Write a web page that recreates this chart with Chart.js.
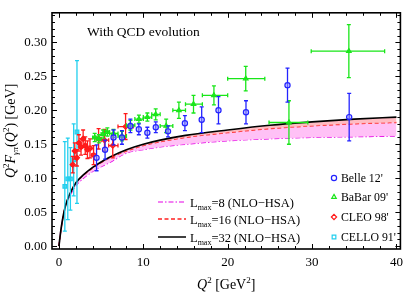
<!DOCTYPE html>
<html><head><meta charset="utf-8">
<script src="https://cdn.jsdelivr.net/npm/chart.js@4.4.0/dist/chart.umd.min.js"></script>
<style>html,body{margin:0;padding:0;background:#fff;overflow:hidden}</style>
</head><body>
<canvas id="c" width="409" height="293" style="width:409px;height:293px;display:block"></canvas>
<script>
const FONT = '"Liberation Serif", "Times New Roman", serif';

// Theory curves (Q^2 grid, Q^2 F(Q^2) in GeV)
const q2Grid = [0, 0.25, 0.5, 0.75, 1, 1.5, 2, 3, 4, 5, 6, 8, 10, 12, 15, 20, 25, 30, 35, 40];
const lmax32 = [0, 0.025, 0.044, 0.058, 0.068, 0.082, 0.093, 0.106, 0.116, 0.124, 0.131, 0.142, 0.150, 0.156, 0.163, 0.171, 0.178, 0.183, 0.187, 0.190];
const lmax16 = [0, 0.025, 0.044, 0.058, 0.068, 0.082, 0.093, 0.1055, 0.115, 0.123, 0.1295, 0.140, 0.148, 0.1535, 0.160, 0.167, 0.173, 0.177, 0.180, 0.182];
const lmax8  = [0, 0.025, 0.043, 0.057, 0.066, 0.079, 0.089, 0.101, 0.110, 0.117, 0.123, 0.137, 0.142, 0.146, 0.150, 0.155, 0.158, 0.160, 0.161, 0.162];

// Belle 12'
const belleQ2  = [4.46, 5.47, 6.47, 7.47, 8.47, 9.47, 10.48, 11.48, 12.93, 14.93, 16.92, 18.91, 22.17, 27.09, 34.4];
const belleF   = [0.130, 0.142, 0.160, 0.160, 0.177, 0.172, 0.167, 0.175, 0.169, 0.181, 0.186, 0.200, 0.197, 0.237, 0.190];
const belleErr = [0.019, 0.014, 0.011, 0.010, 0.010, 0.008, 0.008, 0.008, 0.008, 0.011, 0.019, 0.020, 0.017, 0.025, 0.035];

// BaBar 09'
const babarQ2  = [4.24, 4.74, 5.24, 5.74, 6.47, 7.47, 8.48, 9.48, 10.48, 11.47, 12.71, 14.22, 15.95, 18.37, 22.14, 27.26, 34.36];
const babarLo  = [4.0, 4.5, 5.0, 5.5, 6.0, 7.0, 8.0, 9.0, 10.0, 11.0, 12.0, 13.5, 15.0, 17.0, 20.0, 24.9, 29.9];
const babarHi  = [4.5, 5.0, 5.5, 6.0, 7.0, 8.0, 9.0, 10.0, 11.0, 12.0, 13.5, 15.0, 17.0, 20.0, 24.4, 29.5, 38.6];
const babarF   = [0.160, 0.158, 0.165, 0.168, 0.166, 0.162, 0.178, 0.187, 0.190, 0.194, 0.177, 0.200, 0.209, 0.222, 0.2465, 0.182, 0.287];
const babarErr = [0.006, 0.006, 0.006, 0.006, 0.006, 0.007, 0.007, 0.006, 0.006, 0.008, 0.010, 0.012, 0.013, 0.014, 0.018, 0.032, 0.039];

// CLEO 98'
const cleoQ2  = [1.64, 1.88, 2.13, 2.37, 2.62, 2.87, 3.12, 3.38, 3.68, 4.11, 4.70, 5.40, 6.38, 7.90];
const cleoLo  = [1.5, 1.75, 2.0, 2.25, 2.5, 2.75, 3.0, 3.25, 3.5, 3.9, 4.4, 5.0, 5.9, 7.0];
const cleoHi  = [1.75, 2.0, 2.25, 2.5, 2.75, 3.0, 3.25, 3.5, 3.9, 4.4, 5.0, 5.9, 7.0, 8.8];
const cleoF   = [0.120, 0.140, 0.130, 0.152, 0.146, 0.158, 0.148, 0.142, 0.144, 0.134, 0.158, 0.156, 0.148, 0.176];
const cleoErr = [0.012, 0.012, 0.012, 0.012, 0.012, 0.013, 0.013, 0.013, 0.014, 0.014, 0.015, 0.016, 0.018, 0.019];

// CELLO 91'
const celloQ2  = [0.70, 1.05, 1.36, 1.75, 2.14];
const celloF   = [0.088, 0.099, 0.099, 0.127, 0.168];
const celloErr = [0.066, 0.060, 0.046, 0.053, 0.105];

const xTickValues = [0, 10, 20, 30, 40];
const yTickValues = [0, 0.05, 0.10, 0.15, 0.20, 0.25, 0.30];

const COL = { belle: '#2323ff', babar: '#19e619', cleo: '#ff1a1a', cello: '#22cfee' };

const pts = (xs, ys) => xs.map((x, i) => ({ x: x, y: ys[i] }));

const errorBars = {
  id: 'errorBars',
  beforeDatasetDraw(chart, args) {
    const ds = chart.data.datasets[args.index];
    if (!ds.errY) return;
    const ctx = chart.ctx, xs = chart.scales.x, ys = chart.scales.y, a = chart.chartArea;
    ctx.save();
    ctx.beginPath(); ctx.rect(a.left, a.top, a.right - a.left, a.bottom - a.top); ctx.clip();
    ctx.strokeStyle = ds.borderColor; ctx.lineWidth = 1.3;
    const cap = 2;
    ds.data.forEach((p, i) => {
      const px = xs.getPixelForValue(p.x);
      const y1 = ys.getPixelForValue(p.y - ds.errY[i]);
      const y2 = ys.getPixelForValue(p.y + ds.errY[i]);
      ctx.beginPath();
      ctx.moveTo(px, y1); ctx.lineTo(px, y2);
      ctx.moveTo(px - cap, y1); ctx.lineTo(px + cap, y1);
      ctx.moveTo(px - cap, y2); ctx.lineTo(px + cap, y2);
      if (ds.errXLo) {
        const py = ys.getPixelForValue(p.y);
        const x1 = xs.getPixelForValue(ds.errXLo[i]);
        const x2 = xs.getPixelForValue(ds.errXHi[i]);
        ctx.moveTo(x1, py); ctx.lineTo(x2, py);
        ctx.moveTo(x1, py - cap); ctx.lineTo(x1, py + cap);
        ctx.moveTo(x2, py - cap); ctx.lineTo(x2, py + cap);
      }
      ctx.stroke();
    });
    ctx.restore();
  }
};

function drawRich(ctx, segs, x, y, align) {
  let w = 0;
  segs.forEach(s => { ctx.font = (s.it ? 'italic ' : '') + s.sz + 'px ' + FONT; s.w = ctx.measureText(s.t).width; w += s.w; });
  let cx = align === 'center' ? x - w / 2 : x;
  segs.forEach(s => {
    ctx.font = (s.it ? 'italic ' : '') + s.sz + 'px ' + FONT;
    ctx.fillText(s.t, cx, y + (s.dy || 0));
    cx += s.w;
  });
}

const decor = {
  id: 'decor',
  afterDraw(chart) {
    const ctx = chart.ctx, a = chart.chartArea, xs = chart.scales.x, ys = chart.scales.y;
    ctx.save();
    ctx.strokeStyle = '#000'; ctx.lineWidth = 1;
    // ticks
    ctx.beginPath();
    for (let v = 0; v <= 40.001; v += 2) {
      const px = Math.round(xs.getPixelForValue(v)) + 0.5;
      const L = (Math.abs(v % 10) < 1e-6) ? 5 : 3;
      ctx.moveTo(px, a.bottom); ctx.lineTo(px, a.bottom - L);
      ctx.moveTo(px, a.top); ctx.lineTo(px, a.top + L);
    }
    for (let k = 0; k <= 34; k++) {
      const v = k / 100;
      const py = Math.round(ys.getPixelForValue(v)) + 0.5;
      const L = (k % 5 === 0) ? 5 : 3;
      ctx.moveTo(a.left, py); ctx.lineTo(a.left + L, py);
      ctx.moveTo(a.right, py); ctx.lineTo(a.right - L, py);
    }
    ctx.stroke();
    ctx.lineWidth = 1.6;
    ctx.strokeRect(a.left, a.top, a.right - a.left, a.bottom - a.top);

    ctx.fillStyle = '#000'; ctx.textBaseline = 'alphabetic';
    // title text
    drawRich(ctx, [{ t: 'With QCD evolution', sz: 13.5 }], 87, 36, 'left');
    // x axis title
    drawRich(ctx, [
      { t: 'Q', sz: 14, it: true }, { t: '2', sz: 9, dy: -6 }, { t: ' [GeV', sz: 14 }, { t: '2', sz: 9, dy: -6 }, { t: ']', sz: 14 }
    ], (a.left + a.right) / 2, 289, 'center');
    // y axis title
    ctx.save();
    ctx.translate(15, (a.top + a.bottom) / 2);
    ctx.rotate(-Math.PI / 2);
    drawRich(ctx, [
      { t: 'Q', sz: 14, it: true }, { t: '2', sz: 9, dy: -6 }, { t: 'F', sz: 14, it: true },
      { t: 'γπ', sz: 9, it: true, dy: 3 }, { t: '(', sz: 14 }, { t: 'Q', sz: 14, it: true },
      { t: '2', sz: 9, dy: -6 }, { t: ') [GeV]', sz: 14 }
    ], 0, 0, 'center');
    ctx.restore();

    // left legend (theory lines)
    const lines = [
      { y: 202, col: '#e600e6', dash: [5, 2, 1.5, 2], w: 1.2, n: '8' },
      { y: 219, col: '#ff2020', dash: [4, 2.5], w: 1.3, n: '16' },
      { y: 237, col: '#000', dash: [], w: 1.5, n: '32' }
    ];
    lines.forEach(l => {
      ctx.save();
      ctx.strokeStyle = l.col; ctx.lineWidth = l.w; ctx.setLineDash(l.dash);
      ctx.beginPath(); ctx.moveTo(158, l.y); ctx.lineTo(186, l.y); ctx.stroke();
      ctx.restore();
      ctx.fillStyle = '#000';
      drawRich(ctx, [{ t: 'L', sz: 12.5 }, { t: 'max', sz: 8, dy: 3 }, { t: '=' + l.n + ' (NLO\u2212HSA)', sz: 12.5 }], 190, l.y + 4.5, 'left');
    });

    // right legend (data)
    const items = [
      { y: 178, col: COL.belle, s: 'circle', t: "Belle 12'" },
      { y: 197, col: COL.babar, s: 'triangle', t: "BaBar 09'" },
      { y: 217, col: COL.cleo, s: 'rectRot', t: "CLEO 98'" },
      { y: 237, col: COL.cello, s: 'rect', t: "CELLO 91'" }
    ];
    items.forEach(it => {
      ctx.save();
      ctx.strokeStyle = it.col; ctx.lineWidth = 1.2; ctx.fillStyle = 'rgba(0,0,0,0)';
      Chart.helpers.drawPoint(ctx, { pointStyle: it.s, radius: 2.6, borderWidth: 1.2, rotation: 0 }, 334, it.y);
      ctx.restore();
      ctx.fillStyle = '#000';
      drawRich(ctx, [{ t: it.t, sz: 11.8 }], 341, it.y + 4, 'left');
    });
    ctx.restore();
  }
};

const scatterDs = (label, xs, ys, err, lo, hi, col, style, bg) => ({
  type: 'scatter', label: label, data: pts(xs, ys), errY: err, errXLo: lo, errXHi: hi,
  borderColor: col, backgroundColor: bg, pointStyle: style, pointRadius: 2.6, pointBorderWidth: 1.2,
  order: 0
});

new Chart(document.getElementById('c'), {
  type: 'scatter',
  data: {
    datasets: [
      scatterDs("Belle 12'", belleQ2, belleF, belleErr, null, null, COL.belle, 'circle', 'rgba(150,150,255,0.5)'),
      scatterDs("BaBar 09'", babarQ2, babarF, babarErr, babarLo, babarHi, COL.babar, 'triangle', 'rgba(25,230,25,0.5)'),
      scatterDs("CLEO 98'", cleoQ2, cleoF, cleoErr, cleoLo, cleoHi, COL.cleo, 'rectRot', 'rgba(255,30,30,0.6)'),
      scatterDs("CELLO 91'", celloQ2, celloF, celloErr, null, null, COL.cello, 'rect', 'rgba(34,207,238,0.7)'),
      { type: 'line', label: 'Lmax=32', data: pts(q2Grid, lmax32), borderColor: '#000', borderWidth: 1.7,
        pointRadius: 0, cubicInterpolationMode: 'monotone', fill: '+1', backgroundColor: 'rgba(255,165,175,0.75)', order: 1 },
      { type: 'line', label: 'Lmax=16', data: pts(q2Grid, lmax16), borderColor: '#ff2020', borderWidth: 1.3, borderDash: [4, 2.5],
        pointRadius: 0, cubicInterpolationMode: 'monotone', fill: '+1', backgroundColor: 'rgba(255,190,245,0.95)', order: 1 },
      { type: 'line', label: 'Lmax=8', data: pts(q2Grid, lmax8), borderColor: '#e600e6', borderWidth: 1.2, borderDash: [5, 2, 1.5, 2],
        pointRadius: 0, cubicInterpolationMode: 'monotone', fill: false, order: 1 }
    ]
  },
  options: {
    responsive: false, animation: false, devicePixelRatio: 1,
    layout: { padding: { top: 1, right: 3, left: 0, bottom: 0 } },
    plugins: { legend: { display: false }, tooltip: { enabled: false } },
    scales: {
      x: {
        type: 'linear', min: -0.82, max: 40.47,
        grid: { display: false, drawTicks: false }, border: { display: false },
        ticks: { font: { family: FONT, size: 13 }, color: '#000', padding: 6, maxRotation: 0, autoSkip: false },
        afterBuildTicks: s => { s.ticks = xTickValues.map(v => ({ value: v })); },
        afterFit: s => { s.height = 44; }
      },
      y: {
        type: 'linear', min: -0.0042, max: 0.3435,
        grid: { display: false, drawTicks: false }, border: { display: false },
        ticks: { font: { family: FONT, size: 13 }, color: '#000', padding: 5, autoSkip: false,
          callback: v => Number(v).toFixed(2) },
        afterBuildTicks: s => { s.ticks = yTickValues.map(v => ({ value: v })); },
        afterFit: s => { s.width = 52; }
      }
    }
  },
  plugins: [errorBars, decor]
});
</script>
</body></html>
